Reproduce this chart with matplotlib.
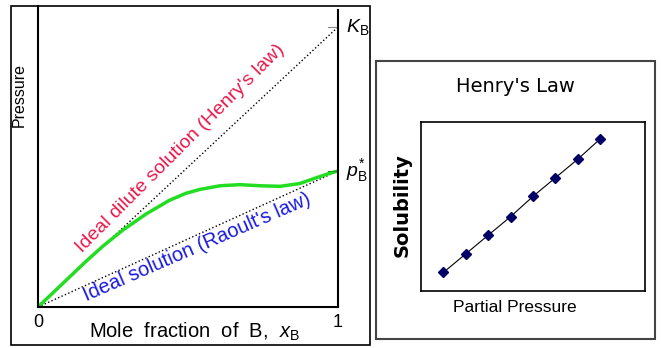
import matplotlib
matplotlib.use("Agg")
from matplotlib import pyplot as plt
from matplotlib.patches import Rectangle
import numpy as np

plt.rcParams['font.family'] = ['Liberation Sans', 'DejaVu Sans']
plt.rcParams['mathtext.fontset'] = 'custom'
plt.rcParams['mathtext.rm'] = 'Liberation Sans'
plt.rcParams['mathtext.it'] = 'Liberation Sans:italic'

## data, left panel (pressure vs mole fraction)
mole_frac = [0, 0.06, 0.104, 0.16, 0.216, 0.282, 0.36, 0.438, 0.493, 0.54, 0.607,
             0.673, 0.74, 0.807, 0.873, 0.918, 0.962, 1.0]
real_p = [0, 0.061, 0.106, 0.163, 0.217, 0.274, 0.332, 0.381, 0.406, 0.42, 0.433,
          0.437, 0.433, 0.431, 0.441, 0.458, 0.474, 0.486]
K_B = 1.0      # Henry's constant
p_star = 0.486 # vapour pressure of pure B

## data, right panel (Henry's law)
partial_p = [1, 2, 3, 4, 5, 6, 7, 8]
solub = [1.1, 2.2, 3.3, 4.4, 5.6, 6.7, 7.8, 9.0]

W, H = 661, 348
fig = plt.figure(figsize=(W/100, H/100), dpi=100)

def fx(px): return px / W
def fy(py): return 1 - py / H

# outer frames
fig.patches.append(Rectangle((fx(11), fy(345)), fx(370-11), (345-6)/H, transform=fig.transFigure,
                             fill=False, ec='black', lw=1.2))
fig.patches.append(Rectangle((fx(376), fy(339)), fx(655-376), (339-61)/H, transform=fig.transFigure,
                             fill=False, ec='#444444', lw=1.5))

## left plot
ax = fig.add_axes([fx(38), fy(307), fx(300), 301/H])
ax.set_xlim(0, 1)
ax.set_ylim(0, 301/280)
ax.plot([0, 1], [0, K_B], ls=':', color='black', lw=1)
ax.plot([0, 1], [0, p_star], ls=':', color='black', lw=1)
ax.plot(mole_frac, real_p, color='#22dd22', lw=2.5, solid_joinstyle='round', solid_capstyle='round')
ax.plot([0.965, 1.0], [K_B, K_B], color='#888888', lw=0.8)
ax.plot([0.965, 1.0], [p_star, p_star], color='#229922', lw=0.8)
ax.spines['top'].set_visible(False)
ax.spines['right'].set_bounds(0, 297/280)
for s in ['left', 'right', 'bottom']:
    ax.spines[s].set_linewidth(1.5)
ax.set_xticks([])
ax.set_yticks([])
ax.patch.set_alpha(0)

ax.text(0, -0.055, "0", ha='center', va='center', fontsize=13)
ax.text(1, -0.055, "1", ha='center', va='center', fontsize=13)
ax.text(0.52, -0.087, r"Mole  fraction  of  B,  $x_{\rm B}$", ha='center', va='center', fontsize=14.5)
fig.text(fx(19), fy(95), "Pressure", rotation=90, ha='center', va='center', fontsize=11.5)
ax.text(1.025, K_B, r"$K_{\rm B}$", ha='left', va='center', fontsize=14)
ax.text(1.025, p_star, r"$p^{*}_{\rm B}$", ha='left', va='center', fontsize=14)

ax.text(0.147, 0.193, "Ideal dilute solution (Henry's law)", color='#e8194b', fontsize=14,
        rotation=45, rotation_mode='anchor', ha='left', va='baseline')
ax.text(0.163, 0.02, "Ideal solution (Raoult's law)", color='#1a1ae0', fontsize=14.5,
        rotation=23.5, rotation_mode='anchor', ha='left', va='baseline')

## right plot
ax2 = fig.add_axes([fx(421), fy(291), fx(645-421), (291-122)/H])
ax2.set_xlim(0, 10)
ax2.set_ylim(0, 10)
ax2.plot(partial_p, solub, color='black', lw=0.8, marker='D', ms=5,
         mfc='#000066', mec='#000066')
ax2.set_xticks([])
ax2.set_yticks([])
for s in ax2.spines.values():
    s.set_linewidth(1.2)
fig.text(fx(515), fy(86), "Henry's Law", ha='center', va='center', fontsize=14, family='DejaVu Sans')
fig.text(fx(402), fy(205), "Solubility", rotation=90, ha='center', va='center', fontsize=14,
         family='DejaVu Sans', weight='bold')
fig.text(fx(515), fy(307), "Partial Pressure", ha='center', va='center', fontsize=12.5)

fig.savefig("out.png", dpi=100)
